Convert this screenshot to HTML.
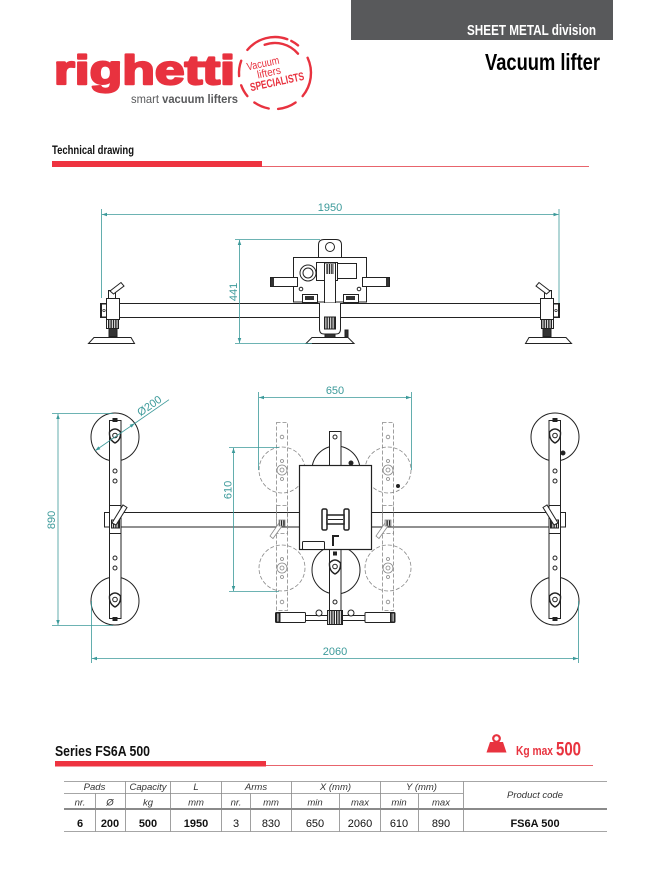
<!DOCTYPE html>
<html><head><meta charset="utf-8"><title>Vacuum lifter</title>
<style>
html,body{margin:0;padding:0;background:#fff;width:660px;height:872px;overflow:hidden}
svg{display:block}
text{font-family:"Liberation Sans",Arial,sans-serif}
</style></head><body>
<svg width="660" height="872" viewBox="0 0 660 872" xmlns="http://www.w3.org/2000/svg">
<defs>
<marker id="ar" viewBox="0 0 10 10" refX="10" refY="5" markerUnits="userSpaceOnUse" markerWidth="6" markerHeight="5" orient="auto-start-reverse"><path d="M0,1.5 L10,5 L0,8.5z" fill="#3c9a9a"/></marker>
<pattern id="kn" width="2.4" height="10" patternUnits="userSpaceOnUse"><rect width="2.4" height="10" fill="#fff"/><rect width="1.4" height="10" fill="#222"/></pattern>
</defs>

<!-- HEADER -->
<rect x="351" y="0" width="262" height="40" fill="#58595b"/>
<text x="596" y="35" text-anchor="end" font-size="15" font-weight="bold" fill="#fff" textLength="129" lengthAdjust="spacingAndGlyphs">SHEET METAL division</text>
<text x="600" y="70" text-anchor="end" font-size="23" font-weight="bold" fill="#000" textLength="115" lengthAdjust="spacingAndGlyphs">Vacuum lifter</text>

<!-- LOGO -->
<text x="54" y="84" font-size="41" font-weight="bold" fill="#e8323f" stroke="#e8323f" stroke-width="2.2" stroke-linejoin="round" textLength="181" lengthAdjust="spacingAndGlyphs">righetti</text>
<text x="131" y="103" font-size="12" fill="#58595b" textLength="107" lengthAdjust="spacingAndGlyphs">smart <tspan font-weight="bold">vacuum lifters</tspan></text>
<g fill="none" stroke="#e8323f" stroke-width="2.4" stroke-linecap="round">
 <path d="M247.4,49.9 A36,36 0 0 1 287.3,39.2"/>
 <path d="M264.7,44.8 A30,30 0 0 1 298,53.7"/>
 <path d="M291.3,40.9 A36,36 0 0 1 298.1,45.4"/>
 <path d="M307.6,57.8 A36,36 0 0 1 302.6,96.1"/>
 <path d="M295.6,102.5 A36,36 0 0 1 278.1,108.9"/>
 <path d="M268.7,108.5 A36,36 0 0 1 254.4,102.5"/>
 <path d="M247.4,96.1 A36,36 0 0 1 241.2,85.3"/>
 <path d="M239.1,76.1 A36,36 0 0 1 241.2,60.7"/>
</g>
<g transform="rotate(-12,274,72)" fill="#e8323f">
 <text x="265" y="65" text-anchor="middle" font-size="11" textLength="33" lengthAdjust="spacingAndGlyphs">Vacuum</text>
 <text x="269" y="75" text-anchor="middle" font-size="11" textLength="24" lengthAdjust="spacingAndGlyphs">lifters</text>
 <text x="275" y="86" text-anchor="middle" font-size="11.5" font-weight="bold" textLength="55" lengthAdjust="spacingAndGlyphs">SPECIALISTS</text>
</g>

<!-- TECHNICAL DRAWING HEADING -->
<text x="52" y="154" font-size="12" font-weight="bold" fill="#111" textLength="82" lengthAdjust="spacingAndGlyphs">Technical drawing</text>
<rect x="52" y="161" width="210" height="6" fill="#ee3340"/>
<line x1="262" y1="166.5" x2="589" y2="166.5" stroke="#e8646c" stroke-width="1"/>

<!-- TOP (SIDE) VIEW -->
<g stroke="#222" stroke-width="1" fill="#fff">
 <rect x="100.5" y="303.5" width="459" height="14"/>
 <g>
  <rect x="101.5" y="304" width="5" height="13"/>
  <circle cx="104" cy="310.5" r="1.2" fill="none" stroke-width="0.7"/>
  <rect x="106.5" y="298.5" width="13" height="21"/>
  <rect x="108.5" y="290.5" width="7" height="8"/>
  <path d="M110,291 L121,282.5 L124,286 L113.5,294z"/>
  <rect x="106.5" y="319.5" width="12" height="9" fill="url(#kn)"/>
  <rect x="109" y="328.5" width="8" height="8" fill="#333"/>
  <path d="M94,337.5 L131,337.5 L134.5,343.5 L88.5,343.5z"/>
 </g>
 <g transform="translate(660,0) scale(-1,1)">
  <rect x="101.5" y="304" width="5" height="13"/>
  <circle cx="104" cy="310.5" r="1.2" fill="none" stroke-width="0.7"/>
  <rect x="106.5" y="298.5" width="13" height="21"/>
  <rect x="108.5" y="290.5" width="7" height="8"/>
  <path d="M110,291 L121,282.5 L124,286 L113.5,294z"/>
  <rect x="106.5" y="319.5" width="12" height="9" fill="url(#kn)"/>
  <rect x="109" y="328.5" width="8" height="8" fill="#333"/>
  <path d="M94,337.5 L131,337.5 L134.5,343.5 L88.5,343.5z"/>
 </g>
 <path d="M318.5,257.5 V245 Q318.5,239.5 324,239.5 H336 Q341.5,239.5 341.5,245 V257.5"/>
 <circle cx="330" cy="247" r="4.5"/>
 <rect x="293.5" y="257.5" width="73" height="44.5"/>
 <circle cx="308" cy="273" r="8"/>
 <circle cx="308" cy="273" r="5" fill="none"/>
 <rect x="316.5" y="262.5" width="21" height="18"/>
 <rect x="337.5" y="263.5" width="19" height="15"/>
 <rect x="302.5" y="294.5" width="15" height="8"/>
 <rect x="305" y="296" width="9" height="4" fill="#333" stroke="none"/>
 <rect x="343.5" y="294.5" width="15" height="8"/>
 <rect x="346" y="296" width="9" height="4" fill="#333" stroke="none"/>
 <circle cx="301" cy="289" r="1.8"/>
 <circle cx="359" cy="289" r="1.8"/>
 <rect x="270.5" y="277.5" width="27" height="9"/>
 <rect x="271" y="278" width="3" height="8" fill="#333" stroke="none"/>
 <rect x="362.5" y="277.5" width="27" height="9"/>
 <rect x="386" y="278" width="3" height="8" fill="#333" stroke="none"/>
 <rect x="324.5" y="263" width="11" height="40"/>
 <rect x="326" y="264" width="8" height="10" fill="url(#kn)" stroke="none"/>
 <path d="M319.5,303 V329 Q319.5,334 324,334 H336 Q340.5,334 340.5,329 V303"/>
 <rect x="324.5" y="317" width="11" height="12" fill="url(#kn)"/>
 <rect x="325" y="334" width="10" height="3.5" fill="#333"/>
 <rect x="345" y="330" width="3" height="7" fill="#333"/>
 <path d="M312,337.5 L348,337.5 L354,343.5 L306,343.5z"/>
</g>
<g stroke="#3c9a9a" stroke-width="0.8" fill="none">
 <line x1="101.5" y1="209" x2="101.5" y2="298"/>
 <line x1="559" y1="209" x2="559" y2="303"/>
 <line x1="102" y1="214.5" x2="558.5" y2="214.5" marker-start="url(#ar)" marker-end="url(#ar)"/>
 <line x1="235" y1="239.5" x2="320" y2="239.5"/>
 <line x1="235" y1="343.5" x2="312" y2="343.5"/>
 <line x1="239.5" y1="240" x2="239.5" y2="343" marker-start="url(#ar)" marker-end="url(#ar)"/>
</g>
<g fill="#3c9a9a" font-size="11">
 <text x="330" y="211" text-anchor="middle">1950</text>
 <text transform="translate(237,292) rotate(-90)" text-anchor="middle">441</text>
</g>

<!-- BOTTOM (PLAN) VIEW -->
<g stroke="#888" stroke-width="0.8" fill="none" stroke-dasharray="4 2">
 <circle cx="282" cy="470" r="23"/>
 <circle cx="282" cy="568" r="23"/>
 <circle cx="388" cy="470" r="23"/>
 <circle cx="388" cy="568" r="23"/>
</g>
<g stroke="#222" stroke-width="1" fill="#fff">
 <circle cx="115" cy="437" r="24"/>
 <circle cx="115" cy="601" r="24"/>
 <circle cx="555" cy="437" r="24"/>
 <circle cx="555" cy="601" r="24"/>
 <circle cx="336" cy="470" r="24"/>
 <circle cx="336" cy="570" r="24"/>
 <rect x="104.5" y="512.5" width="461" height="14.5"/>
</g>
<g stroke="#888" stroke-width="0.8" fill="none" stroke-dasharray="4 2">
 <rect x="276.5" y="422.5" width="11" height="188"/>
 <rect x="382.5" y="422.5" width="11" height="188"/>
 <rect x="276.5" y="505.5" width="11" height="28"/>
 <rect x="382.5" y="505.5" width="11" height="28"/>
</g>
<g stroke="#888" stroke-width="0.8" fill="#fff">
 <path d="M279,523 L270,536 L273,538.5 L282,526z"/>
 <path d="M385,523 L376,536 L379,538.5 L388,526z"/>
 <circle cx="282" cy="470" r="5"/><circle cx="282" cy="470" r="2"/>
 <circle cx="282" cy="568" r="5"/><circle cx="282" cy="568" r="2"/>
 <circle cx="388" cy="470" r="5"/><circle cx="388" cy="470" r="2"/>
 <circle cx="388" cy="568" r="5"/><circle cx="388" cy="568" r="2"/>
 <circle cx="282" cy="437" r="1.8"/><circle cx="282" cy="602" r="1.8"/>
 <circle cx="388" cy="437" r="1.8"/><circle cx="388" cy="602" r="1.8"/>
 <circle cx="282" cy="461" r="1.5"/><circle cx="282" cy="479" r="1.5"/>
 <circle cx="388" cy="461" r="1.5"/><circle cx="388" cy="479" r="1.5"/>
 <circle cx="282" cy="559" r="1.5"/><circle cx="282" cy="577" r="1.5"/>
 <circle cx="388" cy="559" r="1.5"/><circle cx="388" cy="577" r="1.5"/>
 <rect x="279" y="520" width="6" height="6" fill="url(#kn)"/>
 <rect x="385" y="520" width="6" height="6" fill="url(#kn)"/>
</g>
<g stroke="#222" stroke-width="1" fill="#fff">
 <g>
  <rect x="109.5" y="420.5" width="11.5" height="198"/>
  <rect x="113" y="418.5" width="4" height="3" fill="#222"/>
  <rect x="113" y="617.5" width="4" height="3" fill="#222"/>
  <path d="M109.5,432 Q115,426 120.5,432 Q121,440 115,443 Q109,440 109.5,432z" stroke-width="1.4"/>
  <circle cx="115" cy="435.5" r="2.3"/>
  <path d="M109.5,596 Q115,590 120.5,596 Q121,604 115,607 Q109,604 109.5,596z" stroke-width="1.4"/>
  <circle cx="115" cy="599.5" r="2.3"/>
  <circle cx="115" cy="471" r="2"/>
  <circle cx="115" cy="481" r="2"/>
  <circle cx="115" cy="558" r="2"/>
  <circle cx="115" cy="568" r="2"/>
  <rect x="109.5" y="505.5" width="11.5" height="28"/>
  <rect x="111.5" y="520" width="8" height="8" fill="url(#kn)"/>
  <path d="M112,523 L123,505 L127,507.5 L116,525z"/>
 </g>
 <g transform="translate(670,0) scale(-1,1)">
  <rect x="109.5" y="420.5" width="11.5" height="198"/>
  <rect x="113" y="418.5" width="4" height="3" fill="#222"/>
  <rect x="113" y="617.5" width="4" height="3" fill="#222"/>
  <path d="M109.5,432 Q115,426 120.5,432 Q121,440 115,443 Q109,440 109.5,432z" stroke-width="1.4"/>
  <circle cx="115" cy="435.5" r="2.3"/>
  <path d="M109.5,596 Q115,590 120.5,596 Q121,604 115,607 Q109,604 109.5,596z" stroke-width="1.4"/>
  <circle cx="115" cy="599.5" r="2.3"/>
  <circle cx="115" cy="471" r="2"/>
  <circle cx="115" cy="481" r="2"/>
  <circle cx="115" cy="558" r="2"/>
  <circle cx="115" cy="568" r="2"/>
  <rect x="109.5" y="505.5" width="11.5" height="28"/>
  <rect x="111.5" y="520" width="8" height="8" fill="url(#kn)"/>
  <path d="M112,523 L123,505 L127,507.5 L116,525z"/>
 </g>
 <circle cx="563" cy="453" r="2" fill="#222"/>
 <rect x="329.5" y="431.5" width="11.5" height="181"/>
 <circle cx="335" cy="437" r="2"/>
 <circle cx="335" cy="602" r="2"/>
 <path d="M329.5,563 Q335,557 340.5,563 Q341,571 335,574 Q329,571 329.5,563z" stroke-width="1.4"/>
 <circle cx="335" cy="566.5" r="2.3"/>
 <circle cx="351" cy="463" r="2" fill="#222"/>
 <circle cx="398" cy="486" r="1.5" fill="#222"/>
 <rect x="333.5" y="552" width="3" height="3" fill="#222"/>
 <rect x="299.5" y="465.5" width="72" height="84" stroke-width="1.2"/>
 <rect x="322" y="509" width="5" height="21" rx="1.5" stroke-width="1.5"/>
 <rect x="344" y="509" width="5" height="21" rx="1.5" stroke-width="1.5"/>
 <rect x="327" y="515" width="17" height="9" stroke-width="1.5"/>
 <line x1="328" y1="519.5" x2="343" y2="519.5"/>
 <path d="M333,546 V536 H339" fill="none" stroke-width="2"/>
 <rect x="302.5" y="541.5" width="22" height="8" rx="1"/>
 <rect x="305" y="615.5" width="60" height="5"/>
 <rect x="275.5" y="612.5" width="30" height="10" rx="1"/>
 <rect x="276" y="613" width="4" height="9" fill="url(#kn)"/>
 <rect x="365" y="612.5" width="30" height="10" rx="1"/>
 <rect x="390.5" y="613" width="4" height="9" fill="url(#kn)"/>
 <circle cx="319" cy="613" r="3"/>
 <circle cx="351" cy="613" r="3"/>
 <rect x="327.5" y="610.5" width="15" height="14" fill="url(#kn)"/>
</g>
<g stroke="#3c9a9a" stroke-width="0.8" fill="none">
 <line x1="52" y1="413.5" x2="113" y2="413.5"/>
 <line x1="52" y1="625.5" x2="113" y2="625.5"/>
 <line x1="58" y1="414" x2="58" y2="625" marker-start="url(#ar)" marker-end="url(#ar)"/>
 <line x1="95.25" y1="450.63" x2="134.75" y2="423.37" marker-start="url(#ar)" marker-end="url(#ar)"/>
 <line x1="134.75" y1="423.37" x2="169" y2="399.7"/>
 <line x1="229" y1="447.5" x2="279" y2="447.5"/>
 <line x1="229" y1="591.5" x2="279" y2="591.5"/>
 <line x1="233.5" y1="448" x2="233.5" y2="591" marker-start="url(#ar)" marker-end="url(#ar)"/>
 <line x1="258.5" y1="392" x2="258.5" y2="470"/>
 <line x1="411.5" y1="392" x2="411.5" y2="470"/>
 <line x1="259" y1="397.5" x2="411" y2="397.5" marker-start="url(#ar)" marker-end="url(#ar)"/>
 <line x1="91.5" y1="601" x2="91.5" y2="663"/>
 <line x1="578.5" y1="601" x2="578.5" y2="663"/>
 <line x1="92" y1="658.5" x2="578" y2="658.5" marker-start="url(#ar)" marker-end="url(#ar)"/>
</g>
<g fill="#3c9a9a" font-size="11">
 <text transform="translate(55,520) rotate(-90)" text-anchor="middle">890</text>
 <text transform="translate(231.5,490) rotate(-90)" text-anchor="middle">610</text>
 <text x="335" y="394" text-anchor="middle">650</text>
 <text x="335" y="655" text-anchor="middle">2060</text>
 <text transform="translate(151.5,408.8) rotate(-34.6)" text-anchor="middle">Ø200</text>
</g>

<!-- SERIES HEADING -->
<text x="55" y="756" font-size="15" font-weight="bold" fill="#111" textLength="95" lengthAdjust="spacingAndGlyphs">Series FS6A 500</text>
<rect x="55" y="761" width="211" height="5.5" fill="#ee3340"/>
<line x1="266" y1="765.5" x2="593" y2="765.5" stroke="#e8646c" stroke-width="1"/>
<circle cx="496.5" cy="738.5" r="3.3" fill="none" stroke="#e8333f" stroke-width="2.2"/>
<path d="M490,742 L503,742 L506.5,752.5 L486.5,752.5z" fill="#e8333f"/>
<text x="516" y="755" font-size="12.5" font-weight="bold" fill="#e8333f" textLength="37" lengthAdjust="spacingAndGlyphs">Kg max</text>
<text x="556" y="755.5" font-size="19" font-weight="bold" fill="#e8333f" textLength="25" lengthAdjust="spacingAndGlyphs">500</text>

<!-- TABLE -->
<g stroke="#888" stroke-width="0.8">
 <line x1="64" y1="781.5" x2="607" y2="781.5"/>
 <line x1="64" y1="793.5" x2="463" y2="793.5"/>
 <line x1="64" y1="831.5" x2="607" y2="831.5"/>
 <line x1="125.5" y1="781.5" x2="125.5" y2="831.5"/>
 <line x1="170.5" y1="781.5" x2="170.5" y2="831.5"/>
 <line x1="221.5" y1="781.5" x2="221.5" y2="831.5"/>
 <line x1="291.5" y1="781.5" x2="291.5" y2="831.5"/>
 <line x1="380.5" y1="781.5" x2="380.5" y2="831.5"/>
 <line x1="463.5" y1="781.5" x2="463.5" y2="831.5"/>
 <line x1="95.5" y1="793.5" x2="95.5" y2="831.5"/>
 <line x1="250.5" y1="793.5" x2="250.5" y2="831.5"/>
 <line x1="339.5" y1="793.5" x2="339.5" y2="831.5"/>
 <line x1="418.5" y1="793.5" x2="418.5" y2="831.5"/>
</g>
<line x1="64" y1="809" x2="607" y2="809" stroke="#8a8a8a" stroke-width="2"/>
<g font-size="9.5" font-style="italic" fill="#333" text-anchor="middle">
 <text x="94.5" y="790">Pads</text>
 <text x="148" y="790">Capacity</text>
 <text x="196" y="790">L</text>
 <text x="256" y="790">Arms</text>
 <text x="335.5" y="790">X (mm)</text>
 <text x="421.5" y="790">Y (mm)</text>
 <text x="535" y="798">Product code</text>
 <text x="80" y="805.5">nr.</text>
 <text x="110" y="805.5">Ø</text>
 <text x="148" y="805.5">kg</text>
 <text x="196" y="805.5">mm</text>
 <text x="236" y="805.5">nr.</text>
 <text x="271" y="805.5">mm</text>
 <text x="315" y="805.5">min</text>
 <text x="360" y="805.5">max</text>
 <text x="399" y="805.5">min</text>
 <text x="441" y="805.5">max</text>
</g>
<g font-size="11" fill="#111" text-anchor="middle">
 <text x="80" y="827" font-weight="bold">6</text>
 <text x="110" y="827" font-weight="bold">200</text>
 <text x="148" y="827" font-weight="bold">500</text>
 <text x="196" y="827" font-weight="bold">1950</text>
 <text x="236" y="827">3</text>
 <text x="271" y="827">830</text>
 <text x="315" y="827">650</text>
 <text x="360" y="827">2060</text>
 <text x="399" y="827">610</text>
 <text x="441" y="827">890</text>
 <text x="535" y="827" font-weight="bold">FS6A 500</text>
</g>
</svg>
</body></html>
